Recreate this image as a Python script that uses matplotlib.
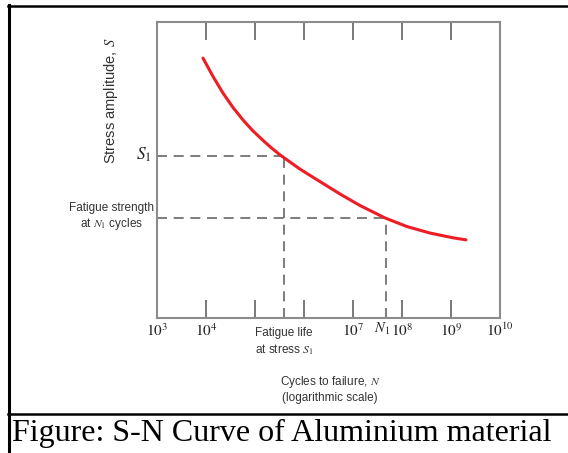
import matplotlib
matplotlib.use('Agg')
import matplotlib.pyplot as plt
from matplotlib.lines import Line2D

plt.rcParams['mathtext.fontset'] = 'stix'

# S-N curve (S in arbitrary units, no y ticks)
cycles = [8.69e3, 1.39e4, 2.22e4, 3.56e4, 5.69e4, 9.10e4, 1.46e5, 2.12e5,
          3.24e5, 5.18e5, 8.28e5, 1.93e6, 5.43e6, 1.39e7, 4.50e7, 1.26e8,
          3.72e8, 1.10e9, 2.02e9]
stress = [0.878, 0.816, 0.760, 0.711, 0.669, 0.632, 0.600, 0.576,
          0.551, 0.527, 0.503, 0.465, 0.419, 0.380, 0.338, 0.309,
          0.287, 0.271, 0.264]

S1 = 0.547
N_S1 = 3.9e5
N1 = 4.7e7
S_N1 = 0.338

tick_pos = [1e3, 1e4, 1e5, 1e6, 1e7, 1e8, 1e9, 1e10]
tick_lbl = ['$10^{3}$', '$10^{4}$', '', '', '$10^{7}$', '$10^{8}$', '$10^{9}$', '$10^{10}$']

W, H = 568, 453
fig = plt.figure(figsize=(W / 100, H / 100), dpi=100)

def fx(px):
    return px / W

def fy(py):
    return 1 - py / H

ax = fig.add_axes([fx(157), fy(318), (500 - 157) / W, (318 - 22) / H])
ax.set_xscale('log')
ax.set_xlim(1e3, 1e10)
ax.set_ylim(0, 1)

gray = '#8c8c8c'
for s in ax.spines.values():
    s.set_color(gray)
    s.set_linewidth(1.5)

ax.set_yticks([])
ax.set_xticks(tick_pos)
ax.set_xticklabels(tick_lbl, fontsize=11)
ax.xaxis.set_minor_locator(matplotlib.ticker.NullLocator())
ax.tick_params(axis='x', which='major', direction='in', length=13, width=1.1,
               color='#555555', top=True, pad=3, labelcolor='#222222')

# dashed guides
dash = dict(color='#666666', lw=1.2, dashes=(6, 4))
ax.plot([1e3, N_S1], [S1, S1], **dash)
ax.plot([N_S1, N_S1], [0, S1], **dash)
ax.plot([1e3, N1], [S_N1, S_N1], **dash)
ax.plot([N1, N1], [0, S_N1], **dash)

ax.plot(cycles, stress, color='#ee1c25', lw=2.2, solid_capstyle='round',
        solid_joinstyle='round')

sans = ['Liberation Sans Narrow', 'Liberation Sans', 'DejaVu Sans']

fig.text(fx(382), fy(329), '$N_1$', ha='center', va='center', fontsize=10.5,
         color='#222222')
fig.text(fx(111), fy(101), 'Stress amplitude, $S$', rotation=90,
         ha='center', va='center', fontsize=10.5, family='Liberation Sans',
         color='#333333')
fig.text(fx(152), fy(155), '$S_1$', ha='right', va='center', fontsize=12.5,
         color='#222222')
fig.text(fx(112), fy(217), 'Fatigue strength\nat $N_1$ cycles', ha='center',
         va='center', fontsize=8.5, family=sans, color='#333333',
         linespacing=1.25)
fig.text(fx(284), fy(342), 'Fatigue life\nat stress $S_1$', ha='center',
         va='center', fontsize=8.5, family=sans, color='#333333',
         linespacing=1.25)
fig.text(fx(330), fy(389), 'Cycles to failure, $N$\n(logarithmic scale)',
         ha='center', va='center', fontsize=8.5, family=sans, color='#333333',
         linespacing=1.25)

# table-like frame around the picture
fig.add_artist(Line2D([fx(9), fx(9)], [fy(5), 0], color='black', lw=2.2))
fig.add_artist(Line2D([fx(8), 1], [fy(5.5), fy(5.5)], color='black', lw=1.8))
fig.add_artist(Line2D([fx(8), 1], [fy(414), fy(414)], color='black', lw=1.8))

fig.text(fx(12), fy(433), 'Figure: S-N Curve of Aluminium material',
         ha='left', va='center', fontsize=23, family='Liberation Serif')

fig.savefig('out.png', dpi=100)
